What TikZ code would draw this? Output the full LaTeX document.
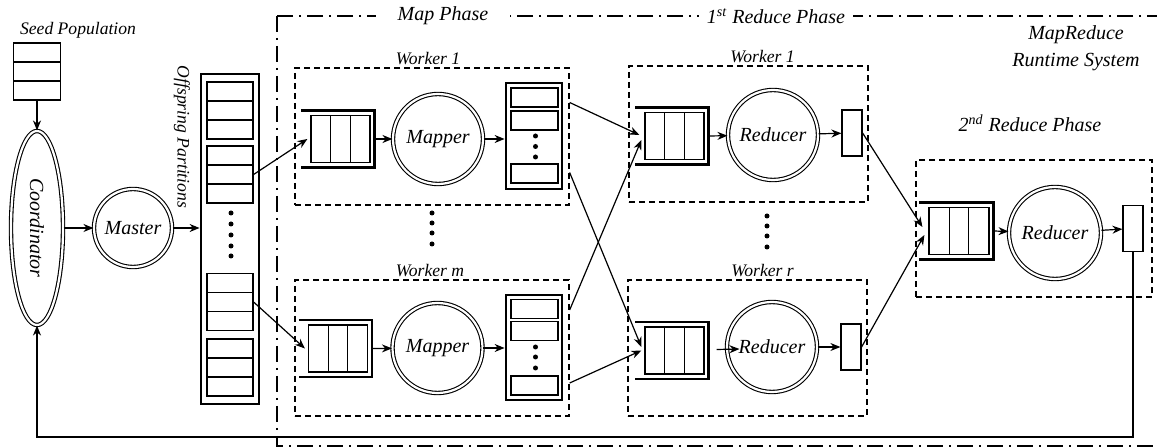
\documentclass[tikz,border=0pt]{standalone}
\usepackage{fontspec}
\setmainfont{Liberation Serif}
\usepackage{tikz}
\usetikzlibrary{arrows.meta,positioning,shapes.geometric}

\begin{document}
\begin{tikzpicture}[x=0.5pt, y=-0.5pt,
    every node/.style={font=\itshape},
    txt/.style={font=\fontsize{10}{13.5}\selectfont\itshape},
    lbl/.style={font=\fontsize{8.8}{10}\selectfont\itshape, inner sep=1pt},
    proc/.style={circle, draw, double, double distance=1.1pt, line width=0.55pt, minimum size=45pt, inner sep=0pt, txt},
    cell/.style={draw, line width=0.6pt, minimum width=23.5pt, minimum height=9.5pt, inner sep=0pt},
    cells3/.style={cell, minimum height=28.5pt, path picture={
        \draw[line width=0.6pt] ([yshift=4.75pt]path picture bounding box.west) -- ([yshift=4.75pt]path picture bounding box.east);
        \draw[line width=0.6pt] ([yshift=-4.75pt]path picture bounding box.west) -- ([yshift=-4.75pt]path picture bounding box.east);}},
    queue/.style={draw, line width=0.6pt, minimum width=29.5pt, minimum height=23.5pt, inner sep=0pt, path picture={
        \draw[line width=0.6pt] ([xshift=-4.9pt]path picture bounding box.north) -- ([xshift=-4.9pt]path picture bounding box.south);
        \draw[line width=0.6pt] ([xshift=4.9pt]path picture bounding box.north) -- ([xshift=4.9pt]path picture bounding box.south);}},
    qbracket/.style={line width=1.3pt},
    stackbox/.style={draw, line width=1.4pt, inner sep=0pt},
    outbox/.style={draw, line width=0.6pt, minimum width=10pt, minimum height=23pt, inner sep=0pt},
    worker/.style={draw, line width=0.65pt, dash pattern=on 3pt off 2pt, inner sep=0pt},
    phase/.style={draw, line width=0.65pt, dash pattern=on 8pt off 3pt on 1pt off 3pt},
    bullet/.style={circle, fill, inner sep=0pt, minimum size=2.5pt},
    flow/.style={-{Stealth[length=5pt, width=4pt]}, line width=0.6pt},
  ]
  \useasboundingbox (0,0) rectangle (1157,448);

  % Phase frame
  \draw[phase] (277,16) rectangle (1175,446);
  \node[txt, fill=white, inner xsep=11pt] (maplbl) at (443,16) {Map Phase};
  \node[txt, fill=white, inner xsep=4pt] (redlbl) at (776,16) {1\textsuperscript{st} Reduce Phase};
  \node[txt, align=center] (syslbl) at (1076,48) {MapReduce\\Runtime System};

  % Seed population and coordinator
  \node[cells3] (seed) at (37,71.5) {};
  \node[lbl] (seedlbl) at (78,30) {Seed Population};
  \node[ellipse, draw, double, double distance=1.1pt, line width=0.55pt, rotate=-90,
        minimum width=97pt, minimum height=26pt, inner sep=0pt, txt] (coord) at (37,228) {Coordinator};
  \node[proc, minimum size=39pt] (master) at (133,228) {Master};

  % Offspring partitions
  \node[stackbox, minimum width=29pt, minimum height=165pt] (part) at (230,239) {};
  \node[lbl, rotate=-90] (partlbl) at (182,137) {Offspring Partitions};
  \node[cells3, minimum width=23pt] (pg1) at (230,110.5) {};
  \node[cells3, minimum width=23pt] (pg2) at (230,174.5) {};
  \node[cells3, minimum width=23pt] (pg3) at (230,302) {};
  \node[cells3, minimum width=23pt] (pg4) at (230,367.5) {};
  \foreach \y [count=\i] in {213,224,235,246,256}
    \node[bullet] (pdot\i) at (231,\y) {};

  % Map worker 1
  \node[worker, minimum width=137pt, minimum height=68.5pt] (mw1) at (432,136.5) {};
  \node[lbl, above=0pt of mw1, xshift=-2pt] (mw1lbl) {Worker 1};
  \node[queue] (mq1) at (340.5,139) {};
  \node[proc] (mp1) at (438,139) {Mapper};
  \node[stackbox, minimum width=28pt, minimum height=53pt] (mo1) at (534,136) {};
  \node[cell] (mo1a) at (534.5,97.5) {};
  \node[cell] (mo1b) at (534.5,120.5) {};
  \node[cell] (mo1c) at (534.5,173.5) {};
  \foreach \y [count=\i] in {136,146.5,157}
    \node[bullet] (mo1d\i) at (535.5,\y) {};

  % Map worker m
  \node[worker, minimum width=137pt, minimum height=68pt] (mwm) at (432,348) {};
  \node[lbl, above=0pt of mwm, xshift=-1pt] (mwmlbl) {Worker m};
  \node[queue] (mqm) at (338,348.5) {};
  \node[proc] (mpm) at (437.5,348) {Mapper};
  \node[stackbox, minimum width=28pt, minimum height=52.5pt] (mom) at (534,347.5) {};
  \node[cell] (moma) at (534.5,309) {};
  \node[cell] (momb) at (534.5,331) {};
  \node[cell] (momc) at (534.5,385.5) {};
  \foreach \y [count=\i] in {347,357,368}
    \node[bullet] (momd\i) at (535.5,\y) {};

  \foreach \y [count=\i] in {213,223,233,244}
    \node[bullet] (mdot\i) at (432,\y) {};

  % 1st reduce worker 1
  \node[worker, minimum width=119.5pt, minimum height=68pt] (rw1) at (748.5,134) {};
  \node[lbl, above=0pt of rw1, xshift=7pt] (rw1lbl) {Worker 1};
  \node[queue] (rq1) at (674.5,136) {};
  \node[proc] (rd1) at (773,135) {Reducer};
  \node[outbox] (ro1) at (852,133) {};

  % 1st reduce worker r
  \node[worker, minimum width=119.5pt, minimum height=68pt] (rwr) at (747.5,348) {};
  \node[lbl, above=0pt of rwr, xshift=7.5pt] (rwrlbl) {Worker r};
  \node[queue] (rqr) at (674.5,350.5) {};
  \node[proc] (rdr) at (772,347) {Reducer};
  \node[outbox] (ror) at (851,347) {};

  \foreach \y [count=\i] in {216,226,236,247}
    \node[bullet] (rdot\i) at (767,\y) {};

  % 2nd reduce phase
  \node[worker, minimum width=118pt, minimum height=68.5pt] (rw2) at (1034,228.5) {};
  \node[txt] (rw2lbl) at (1030,123) {2\textsuperscript{nd} Reduce Phase};
  \node[queue, minimum width=30pt] (rq2) at (959,231) {};
  \node[proc, minimum size=46pt] (rd2) at (1055,233) {Reducer};
  \node[outbox] (ro2) at (1133,228.5) {};

  % Queue brackets
  \foreach \q in {mq1,mqm,rq1,rqr,rq2}
    \draw[qbracket] ([xshift=-4.5pt,yshift=2.2pt]\q.north west) -| ([xshift=2pt,yshift=-2.2pt]\q.south east)
      -- ([xshift=-4.5pt,yshift=-2.2pt]\q.south west);

  % Connectors
  \draw[flow] (seed.south) -- (coord.west);
  \draw[flow] (coord.north) -- (master);
  \draw[flow] (master.east) -- (master.east -| part.west);
  \draw[flow] (pg2.east) -- ([xshift=-1.5pt]mq1.west);
  \draw[flow] (pg3.east) -- ([xshift=-1.5pt]mqm.west);

  \draw[flow] ([xshift=2pt]mq1.east) -- (mp1);
  \draw[flow] (mp1.east) -- (mp1.east -| mo1.west);
  \draw[flow] ([xshift=2pt]mqm.east) -- (mpm);
  \draw[flow] (mpm.east) -- (mpm.east -| mom.west);

  \draw[flow] ([yshift=17pt]mw1.east) -- ([xshift=-2.5pt,yshift=0.5pt]rq1.west);
  \draw[flow] ([yshift=-18pt]mw1.east) -- ([xshift=-1.5pt,yshift=1.75pt]rqr.west);
  \draw[flow] ([yshift=19pt]mwm.east) -- ([xshift=-1.5pt,yshift=-2pt]rq1.west);
  \draw[flow] ([yshift=-17.5pt]mwm.east) -- ([xshift=-1.5pt]rqr.west);

  \draw[flow] ([xshift=2pt]rq1.east) -- (rd1);
  \draw[flow] (rd1) -- (ro1);
  \draw[flow] ([xshift=6pt,yshift=0.5pt]rqr.east) -- ([xshift=6.5pt,yshift=-1pt]rdr.west);
  \draw[flow] (rdr) -- (ror);
  \draw[flow] ([xshift=2pt]rq2.east) -- (rd2);
  \draw[flow] (rd2) -- (ro2);

  \draw[flow] (ro1.east) -- ([xshift=-3pt,yshift=2pt]rq2.west);
  \draw[flow] (ror.east) -- ([xshift=-2pt,yshift=-2pt]rq2.west);

  % Feedback to coordinator
  \coordinate (fbrow) at (0,437);
  \draw[flow, line width=0.8pt] (ro2.south) -- (ro2.south |- fbrow) -| (coord.east);
\end{tikzpicture}
\end{document}
